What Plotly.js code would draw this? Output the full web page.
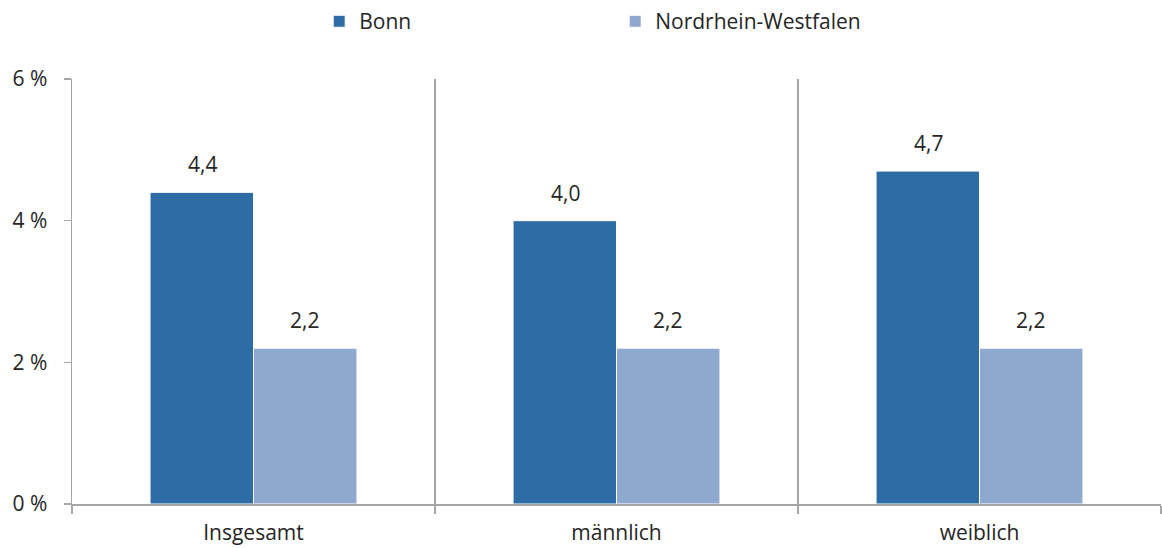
<!DOCTYPE html>
<html>
<head>
<meta charset="utf-8">
<script src="https://cdn.plot.ly/plotly-3.0.1.min.js"></script>
<style>html,body{margin:0;padding:0;background:#fff;}#chart{width:1162px;height:548px;}</style>
</head>
<body>
<div id="chart"></div>
<script>
const categories = ["Insgesamt", "männlich", "weiblich"];
const bonn = [4.4, 4.0, 4.7];
const nrw = [2.2, 2.2, 2.2];
const seriesNames = ["Bonn", "Nordrhein-Westfalen"];
const yTickVals = [0, 2, 4, 6];
const yTickText = ["0 %", "2 %", "4 %", "6 %"];

const fontFam = "'Open Sans', Lato, sans-serif";
const txtColor = "#262626";
const colors = ["#2E6CA5", "#8FA8D0"];

const traces = [bonn, nrw].map((vals, i) => ({
  type: "bar",
  name: seriesNames[i],
  x: categories,
  y: vals,
  marker: {color: colors[i], line: {color: "#ffffff", width: 1}},
  hoverinfo: "none"
}));

const annotations = [];
[bonn, nrw].forEach((vals, i) => {
  vals.forEach((v, j) => {
    annotations.push({
      x: categories[j], y: v, xref: "x", yref: "y",
      text: v.toFixed(1).replace(".", ","),
      showarrow: false, yanchor: "bottom",
      xshift: i === 0 ? -51 : 51, yshift: 12,
      font: {family: fontFam, size: 21, color: txtColor}
    });
  });
});

const layout = {
  width: 1162, height: 548,
  margin: {l: 72, r: 1, t: 76, b: 44},
  paper_bgcolor: "#fff", plot_bgcolor: "#fff",
  barmode: "group", bargap: 0.43, bargroupgap: 0,
  showlegend: true,
  legend: {
    orientation: "h", x: 0.227, xanchor: "left", y: 1.135, yanchor: "middle",
    font: {family: fontFam, size: 21, color: txtColor},
    entrywidth: 251, entrywidthmode: "pixels", itemwidth: 30
  },
  xaxis: {
    type: "category", tickson: "boundaries", showgrid: true, gridcolor: "#A6A6A6", gridwidth: 1.5,
    ticks: "outside", ticklen: 8, tickcolor: "#A6A6A6", tickwidth: 1.5,
    showline: true, linecolor: "#A6A6A6", linewidth: 1.5, ticklabelstandoff: 9,
    tickfont: {family: fontFam, size: 21, color: txtColor}, zeroline: false
  },
  yaxis: {
    range: [0, 6], tickvals: yTickVals, ticktext: yTickText, showgrid: false,
    ticks: "outside", ticklen: 7, tickcolor: "#A6A6A6", tickwidth: 1.5,
    showline: true, linecolor: "#A6A6A6", linewidth: 1.5, zeroline: false, ticklabelstandoff: 12,
    tickfont: {family: fontFam, size: 21, color: txtColor}
  },
  annotations: annotations
};

Plotly.newPlot("chart", traces, layout, {staticPlot: true, displayModeBar: false});
</script>
</body>
</html>
